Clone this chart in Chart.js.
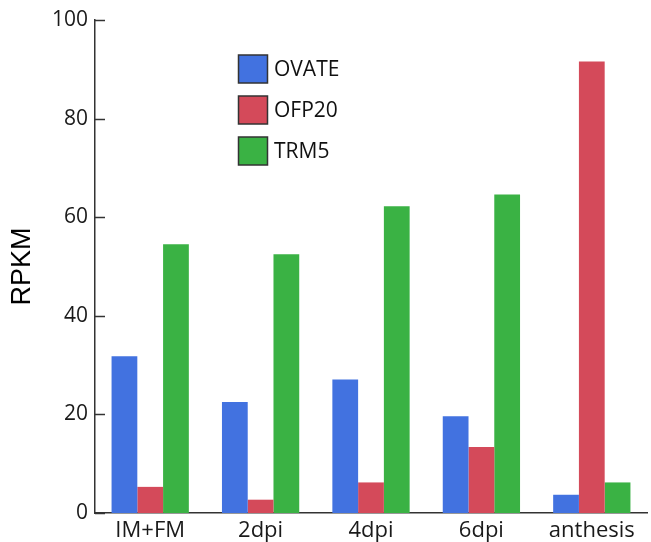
<!DOCTYPE html>
<html>
<head>
<meta charset="utf-8">
<script src="https://cdn.jsdelivr.net/npm/chart.js@4/dist/chart.umd.min.js"></script>
<style>
  html, body { margin: 0; padding: 0; background: #fff; }
  #wrap { width: 651px; height: 542px; }
</style>
</head>
<body>
<div id="wrap"><canvas id="c" width="651" height="542"></canvas></div>
<script>
const stages = ["IM+FM", "2dpi", "4dpi", "6dpi", "anthesis"];
const ovate = [31.8, 22.5, 27.1, 19.6, 3.7];
const ofp20 = [5.3, 2.7, 6.2, 13.4, 91.6];
const trm5 = [54.5, 52.5, 62.2, 64.6, 6.2];
const yTicks = [0, 20, 40, 60, 80, 100];

const axisColor = "#333";
const font = "'Open Sans', 'DejaVu Sans', sans-serif";

// ticks on the y axis point into the plot
const innerTicks = {
  id: "innerTicks",
  afterDraw(chart) {
    const y = chart.scales.y;
    const ctx = chart.ctx;
    ctx.save();
    ctx.strokeStyle = axisColor;
    ctx.lineWidth = 1.5;
    yTicks.forEach((v) => {
      const py = Math.round(y.getPixelForValue(v)) + 0.5;
      ctx.beginPath();
      ctx.moveTo(y.right, py);
      ctx.lineTo(y.right + 10, py);
      ctx.stroke();
    });
    ctx.restore();
  },
};

// legend box placed inside the plot, top middle
const boxLegend = {
  id: "boxLegend",
  afterDraw(chart) {
    const ctx = chart.ctx;
    ctx.save();
    ctx.font = "21px " + font;
    ctx.textBaseline = "middle";
    chart.data.datasets.forEach((ds, i) => {
      const top = 55 + i * 41;
      ctx.fillStyle = ds.backgroundColor;
      ctx.fillRect(238.5, top, 29, 28);
      ctx.strokeStyle = "#333";
      ctx.lineWidth = 1.5;
      ctx.strokeRect(238.5, top, 29, 28);
      ctx.fillStyle = "#111";
      ctx.fillText(ds.label, 274, top + 15);
    });
    ctx.restore();
  },
};

new Chart(document.getElementById("c"), {
  type: "bar",
  data: {
    labels: stages,
    datasets: [
      { label: "OVATE", data: ovate, backgroundColor: "#4272e0" },
      { label: "OFP20", data: ofp20, backgroundColor: "#d44a5a" },
      { label: "TRM5", data: trm5, backgroundColor: "#3ab244" },
    ],
  },
  options: {
    responsive: false,
    animation: false,
    layout: { padding: { top: 20, right: 4, left: 0, bottom: 0 } },
    datasets: { bar: { categoryPercentage: 0.7, barPercentage: 1.0 } },
    plugins: {
      legend: { display: false },
      tooltip: { enabled: false },
    },
    scales: {
      x: {
        grid: { display: false, drawTicks: false },
        border: { color: axisColor, width: 1.5 },
        ticks: { color: "#1a1a1a", padding: 5, font: { family: font, size: 22 } },
        afterFit(s) { s.height = 29; },
      },
      y: {
        min: 0,
        max: 100,
        afterBuildTicks(s) { s.ticks = yTicks.map((v) => ({ value: v })); },
        grid: { display: false, drawTicks: false },
        border: { color: axisColor, width: 1.5 },
        ticks: { color: "#1a1a1a", padding: 7, font: { family: font, size: 21 } },
        title: {
          display: true,
          text: "RPKM",
          color: "#000",
          padding: { top: 6, bottom: 0 },
          font: { family: "'Liberation Sans', Arial, sans-serif", size: 27 },
        },
        afterFit(s) { s.width = 95; },
      },
    },
  },
  plugins: [innerTicks, boxLegend],
});
</script>
</body>
</html>
